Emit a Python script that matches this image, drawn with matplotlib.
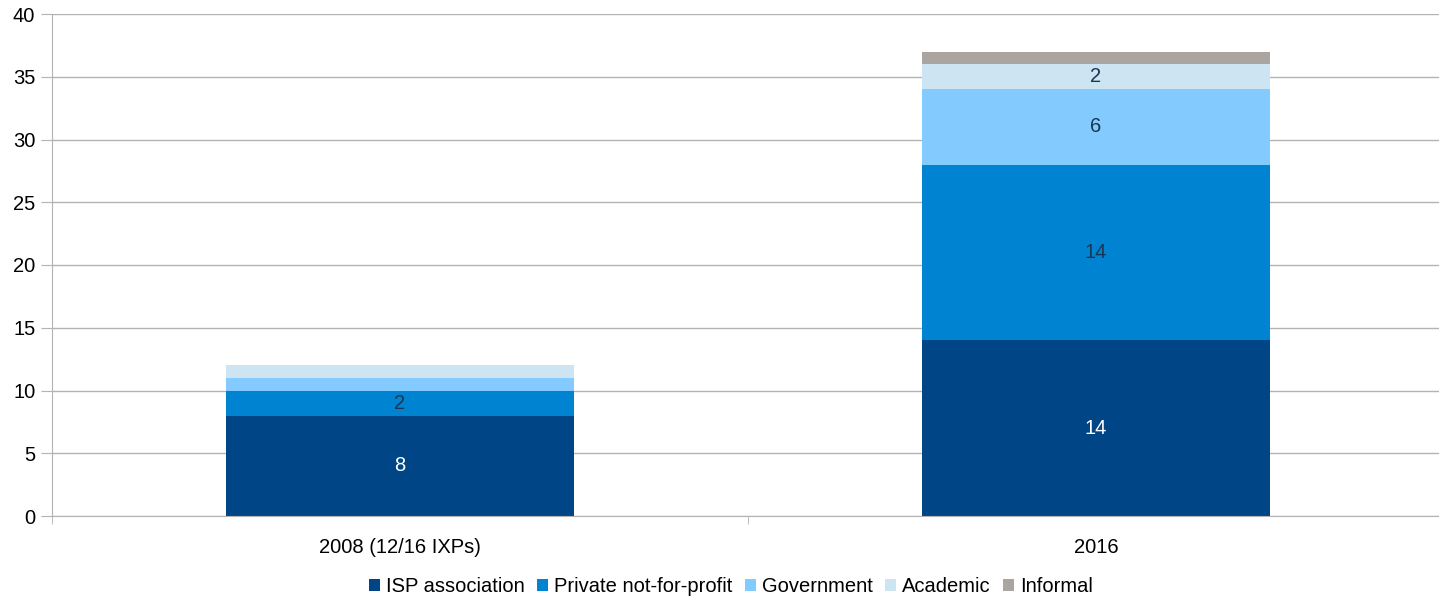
import matplotlib.pyplot as plt
import numpy as np

plt.rcParams['font.family'] = ['Liberation Sans', 'DejaVu Sans']

# Data
categories = ['2008 (12/16 IXPs)', '2016']
series_names = ['ISP association', 'Private not-for-profit', 'Government', 'Academic', 'Informal']
isp = [8, 14]
private = [2, 14]
government = [1, 6]
academic = [1, 2]
informal = [0, 1]
series = [isp, private, government, academic, informal]
colors = ['#004586', '#0084d1', '#83caff', '#cde4f3', '#aaa69f']
label_colors = ['white', '#1c3553', '#1c3553', '#1c3553', '#1c3553']
fs = 14.5

fig = plt.figure(figsize=(14.39, 5.96), dpi=100)
ax = fig.add_axes([52 / 1439, 80 / 596, 1392 / 1439, 502 / 596])

x = np.arange(len(categories))
bottom = np.zeros(len(categories))
for vals, name, col, lc in zip(series, series_names, colors, label_colors):
    bars = ax.bar(x, vals, 0.5, bottom=bottom, color=col, label=name, zorder=2)
    for b, v, b0 in zip(bars, vals, bottom):
        if v >= 2:
            ax.text(b.get_x() + b.get_width() / 2, b0 + v / 2, str(v),
                    ha='center', va='center', color=lc, fontsize=fs, zorder=3)
    bottom += vals

ax.set_xlim(-0.5, 1.5)
ax.set_ylim(0, 40)
ax.set_yticks(range(0, 41, 5))
ax.yaxis.grid(True, color='#b3b3b3', linewidth=1, zorder=0)
ax.set_xticks(x)
ax.set_xticklabels(categories)
ax.set_xticks([-0.5, 0.5, 1.5], minor=True)
ax.tick_params(axis='x', which='major', length=0, pad=16, labelsize=fs)
ax.tick_params(axis='x', which='minor', length=6, color='#b3b3b3')
ax.tick_params(axis='y', length=8, color='#b3b3b3', labelsize=fs, pad=4)

for s in ['top', 'right']:
    ax.spines[s].set_visible(False)
ax.spines['left'].set_color('#b3b3b3')
ax.spines['bottom'].set_color('#b3b3b3')
ax.spines['left'].set_bounds(-0.1, 40)

handles, labels = ax.get_legend_handles_labels()
fig.legend(handles, labels, loc='center', bbox_to_anchor=(731 / 1439, 9 / 596),
           ncol=5, frameon=False, fontsize=fs, handlelength=0.55, handleheight=0.55,
           handletextpad=0.3, columnspacing=0.6, borderpad=0)

fig.savefig('out.png', dpi=100)
